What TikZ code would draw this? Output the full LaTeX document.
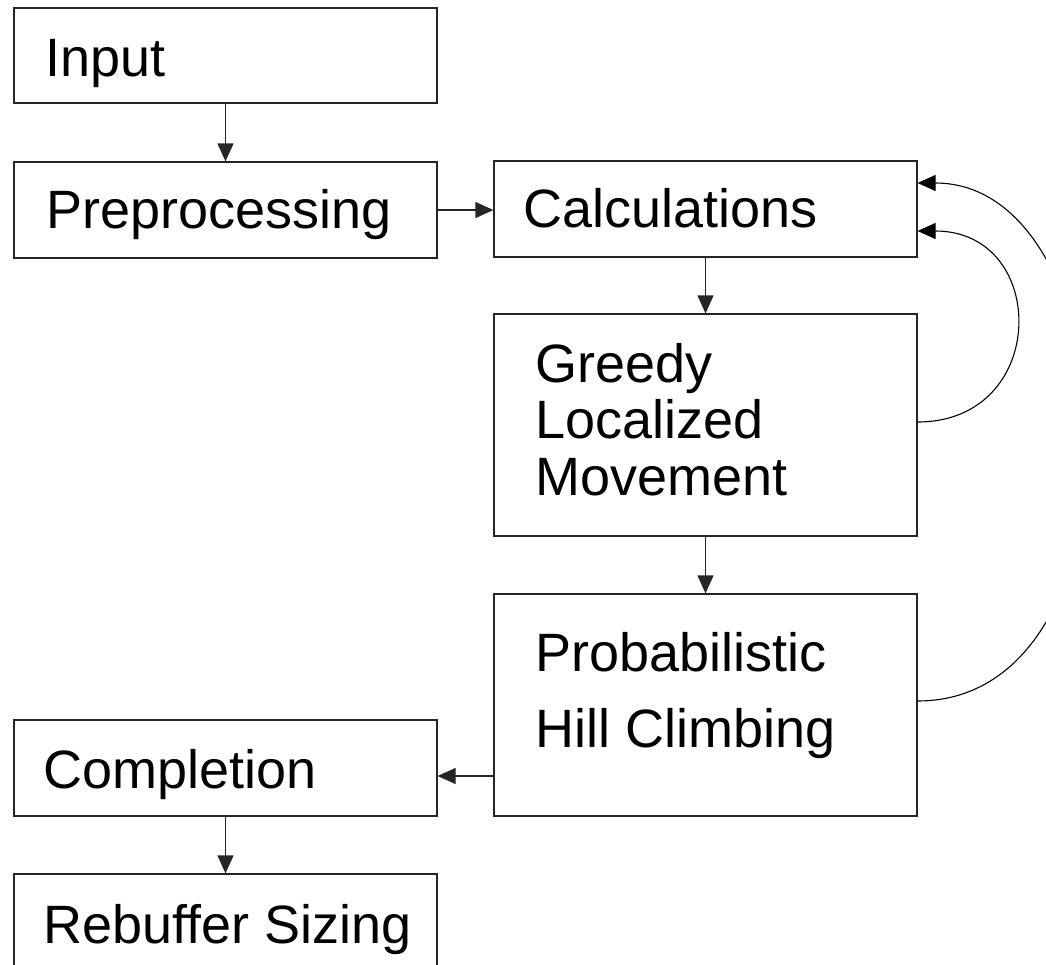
\documentclass[tikz,border=0pt]{standalone}
\usepackage{fontspec}
\setmainfont{Liberation Sans}
\usetikzlibrary{arrows.meta,calc}
\begin{document}
\begin{tikzpicture}[x=1pt,y=-1pt,
  stepbox/.style={draw=black!85,line width=1.2pt,inner sep=0pt},
  lbl/.style={anchor=base west,inner sep=0pt,font=\fontsize{54}{56.5}\selectfont},
  arr/.style={draw=black!85,line width=1.2pt,-{Triangle[length=18pt,width=16pt]}},
  curve/.style={draw=black,line width=1.1pt,-{Triangle[length=18pt,width=16pt]}}]
\useasboundingbox (0,0) rectangle (1046,964);
% boxes
\node[stepbox,minimum width=423pt,minimum height=95pt]  (input)  at (225.5,55.5) {};
\node[stepbox,minimum width=423pt,minimum height=96pt]  (prep)   at (225.5,210) {};
\node[stepbox,minimum width=423pt,minimum height=96pt]  (calc)   at (705.5,209) {};
\node[stepbox,minimum width=423pt,minimum height=222pt] (greedy) at (705.5,425) {};
\node[stepbox,minimum width=423pt,minimum height=222pt] (prob)   at (705.5,705) {};
\node[stepbox,minimum width=423pt,minimum height=96pt]  (comp)   at (225.5,768) {};
\node[stepbox,minimum width=423pt,minimum height=96pt]  (rebuf)  at (225.5,922) {};
% labels (multi-line labels are placed by the baseline of their last line)
\node[lbl] (tinput) at (45,76) {Input};
\node[lbl] (tprep)  at (46,228) {Preprocessing};
\node[lbl] (tcalc)  at (523,227) {Calculations};
\node[lbl,align=left] (tgreedy) at (535,495) {Greedy\\Localized\\Movement};
\node[lbl,align=left,font=\fontsize{54}{76}\selectfont] (tprob) at (535,747) {Probabilistic\\Hill Climbing};
\node[lbl] (tcomp)  at (43,788) {Completion};
\node[lbl] (trebuf) at (43,943) {Rebuffer Sizing};
% straight connectors
\draw[arr] (input.south) -- (prep.north);
\draw[arr] (prep.east) -- (prep.east -| calc.west);
\draw[arr] (calc.south) -- (greedy.north);
\draw[arr] (greedy.south) -- (prob.north);
\coordinate (cy) at (0,776);
\draw[arr] (prob.west |- cy) -- (comp.east |- cy);
\draw[arr] (comp.south) -- (rebuf.north);
% feedback curves
\coordinate (calcin) at ($(calc.east)+(0,22)$);
\coordinate (calcout) at ($(calc.east)+(0,-26)$);
\coordinate (gout) at ($(greedy.east)+(0,-3)$);
\coordinate (pout) at ($(prob.east)+(0,-4)$);
\draw[curve] (gout) .. controls ($(gout)+(132,0)$) and ($(calcin)+(132,0)$) .. (calcin);
\draw[curve] (pout) .. controls ($(pout)+(235,0)$) and ($(calcout)+(215,0)$) .. (calcout);
\end{tikzpicture}
\end{document}
